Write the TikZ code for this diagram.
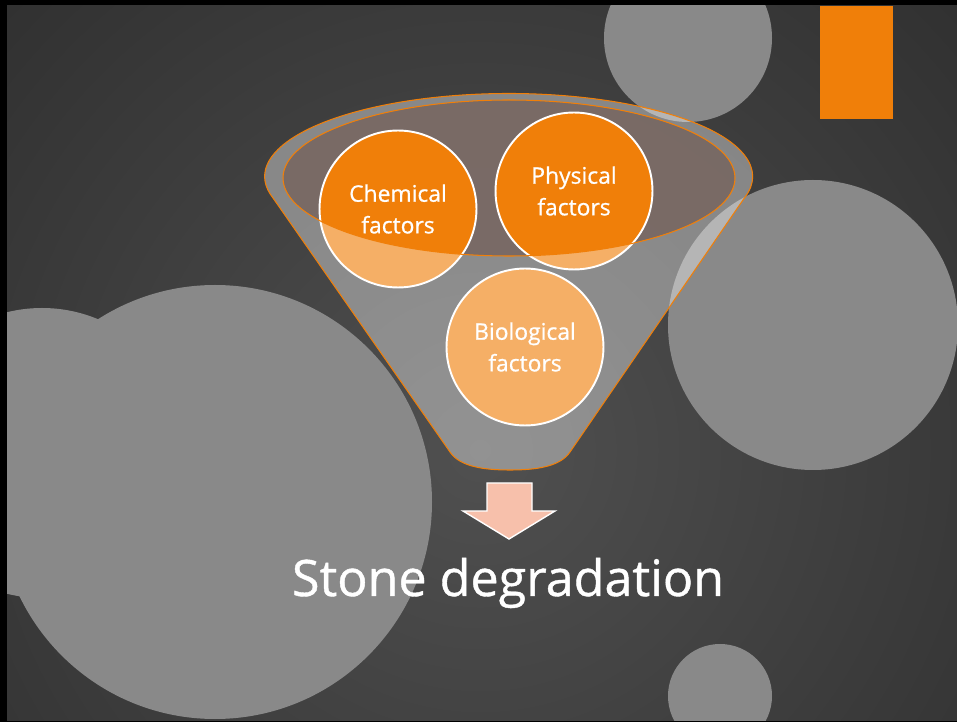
\documentclass[tikz,border=0pt]{standalone}
\usepackage{fontspec}
\setmainfont{Open Sans}
\newfontfamily\slidefont[FakeBold=0.8]{Open Sans}
\definecolor{accent}{RGB}{240,127,9}
\definecolor{circlegray}{RGB}{137,137,137}
\definecolor{bgdark}{RGB}{37,37,37}
\definecolor{bglight}{RGB}{80,80,80}
\definecolor{rimbrown}{RGB}{126,110,105}
\definecolor{peach}{RGB}{247,192,171}

\begin{document}
\begin{tikzpicture}[x=0.02cm, y=-0.02cm,
    % Styles
    blob/.style={fill=circlegray},
    factor/.style={circle, draw=white, line width=1.1pt, fill=accent, minimum size=3.14cm, inner sep=0pt, align=center, text=white, font=\slidefont\fontsize{13}{18}\selectfont},
    funnel/.style={draw=accent, line width=0.6pt, fill=white, fill opacity=0.38, even odd rule},
    blockarrow/.style={draw=white, line width=0.8pt, fill=peach},
]

% Slide background
\fill[black] (0,0) rectangle (957,722);
\begin{scope}
\clip (7,6) rectangle (957,720);
\shade[inner color=bglight, outer color=bgdark] (-420,-450) rectangle (1380,1350);

% Decorative circles
\fill[blob] (688,38) circle[radius=84];
\fill[blob] (813,325) circle[radius=145];
\fill[blob] (42,453) circle[radius=145];
\fill[blob] (215,502) circle[radius=217];
\fill[blob] (720,696) circle[radius=52];
\end{scope}

% Orange bar
\fill[accent] (820,6) rectangle (893,119);

% Funnel mouth
\fill[rimbrown, fill opacity=0.92] (509,178) ellipse[x radius=226, y radius=78];

% Factors
\node[factor] (chem) at (398,209) {Chemical\\factors};
\node[factor] (phys) at (574,191) {Physical\\factors};
\node[factor] (bio) at (525,347) {Biological\\factors};

% Funnel body
\path[funnel] (273,198) arc[start angle=165, end angle=375, x radius=244, y radius=83]
    -- (570,452) .. controls (560,467) and (535,470) .. (510,470)
    .. controls (485,470) and (460,467) .. (450,452) -- cycle
    (509,178) ellipse[x radius=226, y radius=78];

% Result
\node[font=\slidefont\fontsize{28.6}{34}\selectfont, text=white, anchor=base] (result) at (508,596) {Stone degradation};

\draw[blockarrow] (487,483) -- (532,483) -- (532,511) -- (555,511) -- (509,539)
    -- (463,511) -- (487,511) -- cycle;

\end{tikzpicture}
\end{document}
